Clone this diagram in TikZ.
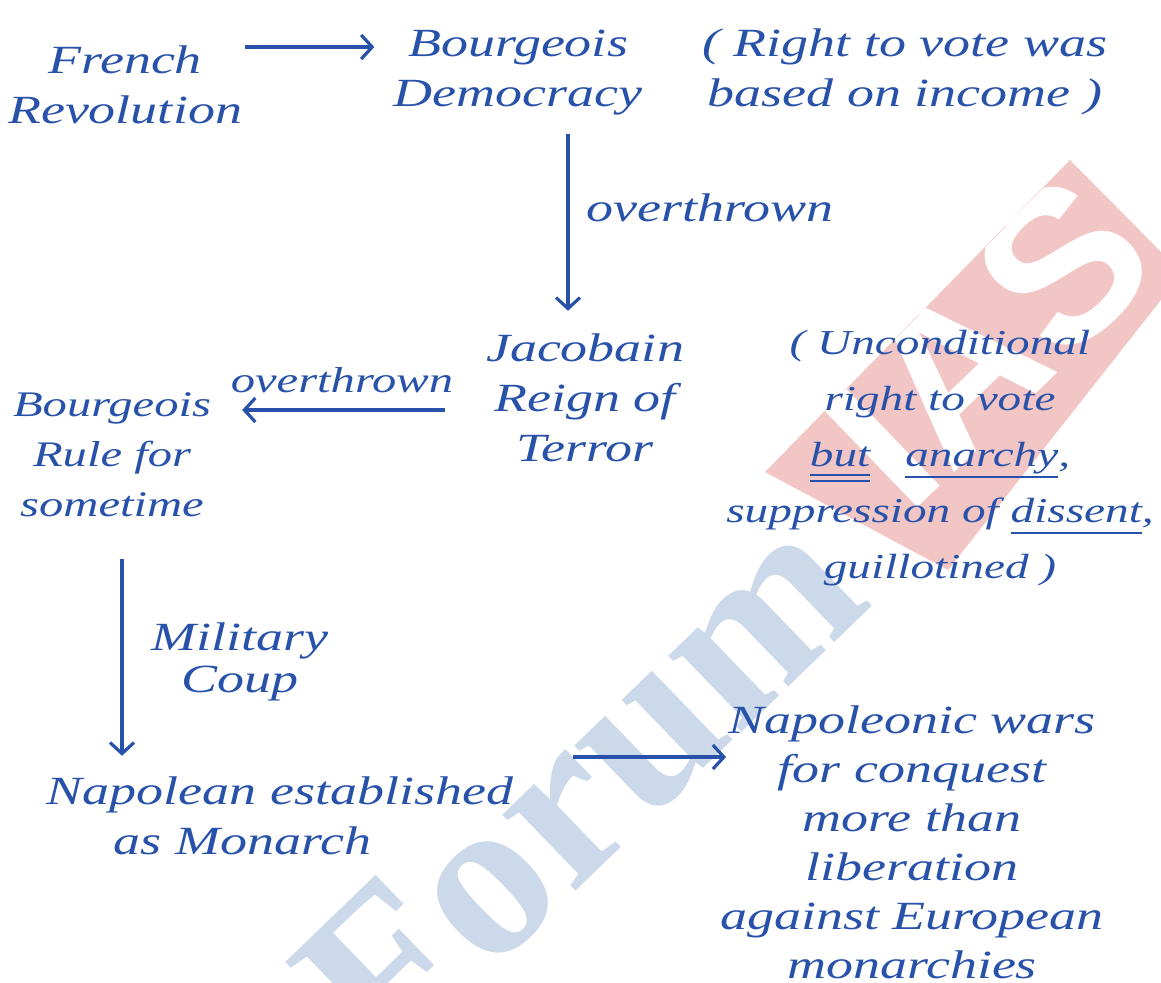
\documentclass[tikz,border=0pt]{standalone}
\usepackage{fontspec}
\usetikzlibrary{arrows.meta}
\newfontfamily\hand{Liberation Serif}[FakeStretch=1.35]
\newfontfamily\wmserif{Liberation Serif}
\newfontfamily\wmsans{Liberation Sans}
\definecolor{ink}{RGB}{40,82,170}
\definecolor{wmblue}{RGB}{204,217,234}
\definecolor{wmpink}{RGB}{243,198,198}
\newcommand\myul[1]{\setbox0\hbox{#1}\rlap{\raisebox{-12pt}{\rule{\wd0}{2.6pt}}}\box0}
\newcommand\mydul[1]{\setbox0\hbox{#1}\rlap{\raisebox{-10pt}{\rule{\wd0}{2.6pt}}}\rlap{\raisebox{-16pt}{\rule{\wd0}{2.6pt}}}\box0}
\begin{document}
\begin{tikzpicture}[x=1pt,y=-1pt,
  hw/.style={font=\hand\itshape\fontsize{40}{50}\selectfont, text=ink, align=center, inner sep=3pt},
  hwsmall/.style={font=\hand\itshape\fontsize{36}{50}\selectfont, text=ink, align=center, inner sep=3pt},
  hwwide/.style={font=\hand\itshape\fontsize{35}{56}\selectfont, text=ink, align=center, inner sep=3pt},
  hwtight/.style={font=\hand\itshape\fontsize{40}{42}\selectfont, text=ink, align=center, inner sep=3pt},
  hwwars/.style={font=\hand\itshape\fontsize{40}{49}\selectfont, text=ink, align=center, inner sep=3pt},
  arr/.style={draw=ink, line width=3.2pt, -{Straight Barb[length=11pt,width=24pt]}}]
\useasboundingbox (0,0) rectangle (1161,982);
\fill[white] (0,0) rectangle (1161,982);
% watermark
\node[font=\wmserif\bfseries\fontsize{230}{230}\selectfont, text=wmblue, rotate=44] (wmforum) at (580,785) {Forum};
\begin{scope}
\clip (1070,160) -- (1161,252) -- (1161,300) -- (948,570) -- (765,472) -- cycle;
\fill[wmpink] (700,100) rectangle (1161,700);
\node[font=\wmsans\bfseries\fontsize{215}{215}\selectfont, text=white, rotate=44] (wmias) at (985,340) {IAS};
\end{scope}
% texts
\node[hw] (french) at (125,85) {French\\Revolution};
\node[hw] (bdem) at (518,73) {Bourgeois\\Democracy};
\node[hw] (rvote) at (905,72) {( Right to vote was\\based on income )};
\node[hw] (ov1) at (710,208) {overthrown};
\node[hw] (jac) at (585,398) {Jacobain\\Reign of\\Terror};
\node[hwwide] (uncond) at (940,458) {( Unconditional\\right to vote\\\mydul{but}\quad\myul{anarchy},\\suppression of \myul{dissent},\\guillotined )};
\node[hwsmall] (ov2) at (342,380) {overthrown};
\node[hwsmall] (brule) at (112,455) {Bourgeois\\Rule for\\sometime};
\node[hwtight] (coup) at (240,662) {Military\\Coup};
\node[hw] (nap) at (280,816) {Napolean established\\as Monarch\hspace*{75pt}};
\node[hwwars] (wars) at (912,842) {Napoleonic wars\\for conquest\\more than\\liberation\\against European\\monarchies};
% connectors
\draw[arr, shorten >=16pt] ([yshift=38pt]french.east) -- ([yshift=38pt]french.east -| bdem.west);
\draw[arr, shorten <=15pt, shorten >=20pt] ([xshift=50pt]bdem.south) -- ([xshift=50pt]bdem.south |- jac.north);
\draw[arr, shorten <=38pt, shorten >=28pt] ([yshift=-12pt]jac.west) -- ([yshift=-12pt]jac.west -| brule.east);
\draw[arr, shorten <=39pt, shorten >=18pt] ([xshift=10pt]brule.south) -- ([xshift=10pt]brule.south |- nap.north);
\draw[arr, shorten <=57pt, shorten >=-9pt] ([yshift=59pt]nap.east) -- ([yshift=59pt]nap.east -| wars.west);
\end{tikzpicture}
\end{document}
